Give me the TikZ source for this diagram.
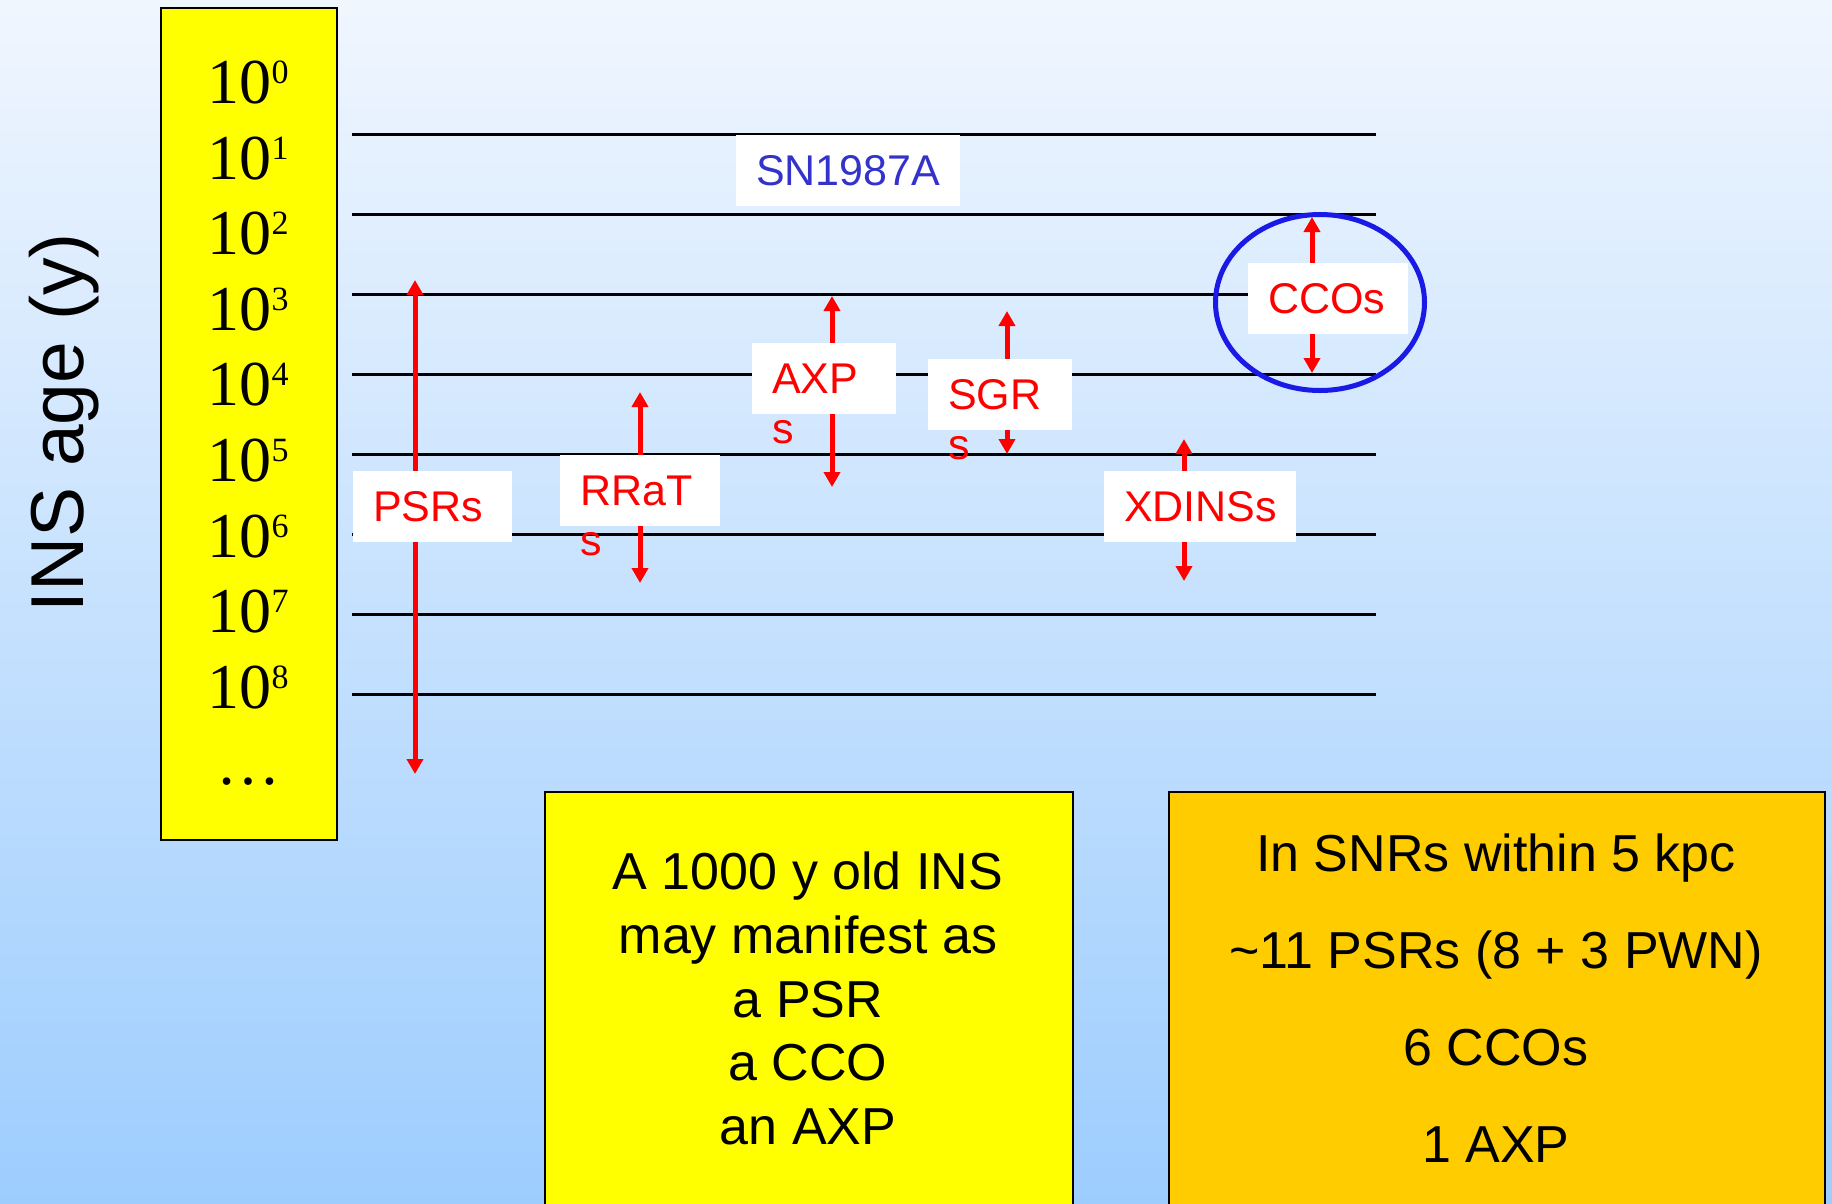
\documentclass[tikz,border=0pt]{standalone}
\usepackage{fontspec}
\setmainfont{Liberation Sans}
\newfontfamily\serifnum{Liberation Serif}
\usetikzlibrary{arrows.meta,shapes.geometric}
\definecolor{bgtop}{HTML}{F0F6FE}
\definecolor{bgbot}{HTML}{9DCDFE}
\definecolor{ylw}{HTML}{FFFF00}
\definecolor{orng}{HTML}{FFCC00}
\definecolor{snblue}{HTML}{3333CC}
\definecolor{ringblue}{HTML}{1A1AE6}
\tikzset{
 hline/.style={line width=3.3pt, black},
 agearrow/.style={line width=5pt, red, {Triangle[length=15pt,width=16pt]}-{Triangle[length=15pt,width=16pt]}},
 wbox/.style={fill=white, draw=none, minimum height=71pt, inner sep=0pt, outer sep=0pt, anchor=north west},
 lbl/.style={font=\fontsize{43}{50}\selectfont, text=red, inner sep=0pt, outer sep=0pt, anchor=base west},
 agelbl/.style={font=\serifnum\fontsize{64}{64}\selectfont, inner sep=0pt, anchor=base},
 infobox/.style={draw=black, line width=2pt, anchor=north west, inner sep=0pt},
 infotext/.style={font=\fontsize{52}{52}\selectfont, inner sep=0pt, anchor=base},
}
\begin{document}
\begin{tikzpicture}[x=1pt,y=-1pt]
\useasboundingbox (0,0) rectangle (1832,1203);
\clip (0,0) rectangle (1832,1203);
\shade[top color=bgtop, bottom color=bgbot] (0,0) rectangle (1832,1203);

% age column
\node[draw=black, fill=ylw, line width=2pt, minimum width=176pt, minimum height=832pt, anchor=north west, inner sep=0pt] (agecol) at (160,7) {};
\foreach \k in {0,...,8} {
  \node[agelbl] (age\k) at (248,{103.5+75.6*\k}) {10\raisebox{20pt}{\fontsize{34}{34}\selectfont\k}};
}
\node[agelbl] (agedots) at (248,784.4) {\textellipsis};

% axis title
\node[font=\fontsize{75}{75}\selectfont, rotate=90, anchor=base, inner sep=0pt] (axis) at (83,423) {INS age (y)};

% horizontal lines
\foreach \k in {0,...,7} {
  \coordinate (hl\k) at (352,{134.3+80*\k});
  \coordinate (hr\k) at (1376,{134.3+80*\k});
  \draw[hline] (hl\k) -- (hr\k);
}

% highlight ring
\node[draw=ringblue, line width=5pt, ellipse, minimum width=209pt, minimum height=176pt, inner sep=0pt] (ring) at (1320,302.5) {};

% age-range arrows
\coordinate (psrT) at (415,280);  \coordinate (psrB) at (415,774);
\coordinate (rrtT) at (640,392);  \coordinate (rrtB) at (640,583);
\coordinate (axpT) at (832,296);  \coordinate (axpB) at (832,487);
\coordinate (sgrT) at (1007,311); \coordinate (sgrB) at (1007,454);
\coordinate (xdiT) at (1184,439); \coordinate (xdiB) at (1184,581);
\coordinate (ccoT) at (1312,217); \coordinate (ccoB) at (1312,373);
\draw[agearrow] (psrT) -- (psrB);
\draw[agearrow] (rrtT) -- (rrtB);
\draw[agearrow] (axpT) -- (axpB);
\draw[agearrow] (sgrT) -- (sgrB);
\draw[agearrow] (xdiT) -- (xdiB);
\draw[agearrow] (ccoT) -- (ccoB);

% label boxes
\node[wbox, minimum width=224pt] (snbox) at (736,135) {};
\node[lbl, text=snblue] (sntxt) at ([xshift=20pt,yshift=-50pt]snbox.north west) {SN1987A};

\node[wbox, minimum width=159pt] (psrbox) at (353,471) {};
\node[lbl] (psrtxt) at ([xshift=20pt,yshift=-50pt]psrbox.north west) {PSRs};

\node[wbox, minimum width=160pt] (rrtbox) at (560,455) {};
\node[lbl] (rrttxt) at ([xshift=20pt,yshift=-50pt]rrtbox.north west) {RRaT};
\node[lbl] (rrts) at ([yshift=-50pt]rrttxt.base west) {s};

\node[wbox, minimum width=144pt] (axpbox) at (752,343) {};
\node[lbl] (axptxt) at ([xshift=20pt,yshift=-50pt]axpbox.north west) {AXP};
\node[lbl] (axps) at ([yshift=-50pt]axptxt.base west) {s};

\node[wbox, minimum width=144pt] (sgrbox) at (928,359) {};
\node[lbl] (sgrtxt) at ([xshift=20pt,yshift=-50pt]sgrbox.north west) {SGR};
\node[lbl] (sgrs) at ([yshift=-50pt]sgrtxt.base west) {s};

\node[wbox, minimum width=192pt] (xdibox) at (1104,471) {};
\node[lbl] (xditxt) at ([xshift=20pt,yshift=-50pt]xdibox.north west) {XDINSs};

\node[wbox, minimum width=160pt] (ccobox) at (1248,263) {};
\node[lbl] (ccotxt) at ([xshift=20pt,yshift=-50pt]ccobox.north west) {CCOs};

% bottom info boxes
\node[infobox, fill=ylw, minimum width=528pt, minimum height=440pt] (agebox) at (544,791) {};
\node[infotext] (a1) at (808,889) {A 1000 y old INS};
\node[infotext] (a2) at (808,953) {may manifest as};
\node[infotext] (a3) at (808,1017) {a PSR};
\node[infotext] (a4) at (808,1080) {a CCO};
\node[infotext] (a5) at (808,1144) {an AXP};

\node[infobox, fill=orng, minimum width=656pt, minimum height=440pt] (snrbox) at (1168,791) {};
\node[infotext] (b1) at (1496,871) {In SNRs within 5 kpc};
\node[infotext] (b2) at (1496,968) {\textasciitilde 11 PSRs (8 + 3 PWN)};
\node[infotext] (b3) at (1496,1065) {6 CCOs};
\node[infotext] (b4) at (1496,1162) {1 AXP};
\end{tikzpicture}
\end{document}
